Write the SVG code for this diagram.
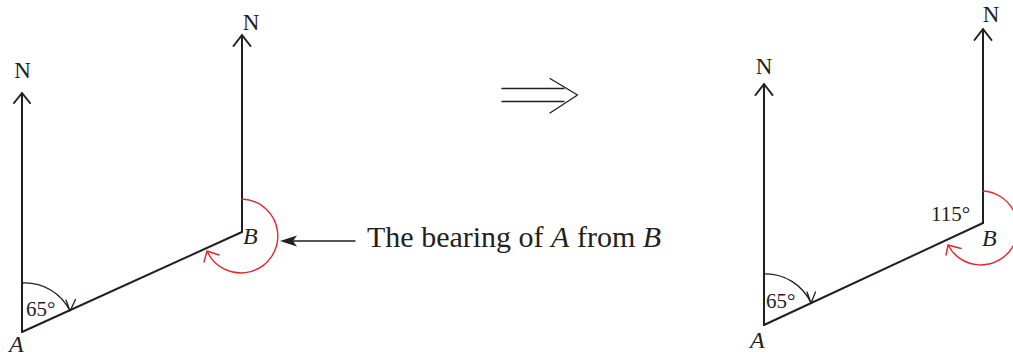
<svg xmlns="http://www.w3.org/2000/svg" width="1013" height="356" viewBox="0 0 1013 356">
<style>
.ln{stroke:#231f20;stroke-width:2;fill:none;stroke-linecap:round;stroke-linejoin:round}
.thin{stroke:#231f20;stroke-width:1.3;fill:none;stroke-linecap:round;stroke-linejoin:round}
.red{stroke:#e0262f;stroke-width:1.4;fill:none;stroke-linecap:round;stroke-linejoin:round}
text{font-family:"Liberation Serif","Times New Roman",serif;fill:#231f20}
.n{font-size:23px;text-anchor:middle}
.pt{font-size:24px;font-style:italic}
.ang{font-size:21px}
.cap{font-size:30px}
</style>
<rect width="1013" height="356" fill="#ffffff"/>
<g id="left-figure">
  <path class="ln" d="M22,332 V93 M14,103 L22,93 L30,103"/>
  <path class="ln" d="M242,232 V35 M233.5,46 L242,35 L250.5,46"/>
  <path class="ln" d="M22,332 L242,232"/>
  <path class="thin" d="M22,283 A50,50 0 0 1 70,311 M66,300 L70,311 L75.5,299.5"/>
  <path class="red" d="M242,199 A37,37 0 1 1 207,251 M204,262 L207,251 L219,255"/>
  <text class="n" x="22.5" y="78">N</text>
  <text class="n" x="251" y="30">N</text>
  <text class="pt" x="243" y="244">B</text>
  <text class="pt" x="9" y="352">A</text>
  <text class="ang" x="26" y="316">65°</text>
</g>
<g id="implies">
  <path class="thin" d="M502,88.5 H564 M502,101.5 H564 M550,78.5 L577.5,95 L550,113"/>
</g>
<g id="right-figure">
  <path class="ln" d="M764,325 V84 M755.5,95 L764,84 L772.5,95"/>
  <path class="ln" d="M983,223 V29 M974.5,40 L983,29 L991.5,40"/>
  <path class="ln" d="M764,325 L983,223"/>
  <path class="thin" d="M764,274 A50,50 0 0 1 811,303 M807,292 L811,303 L815.5,292"/>
  <path class="red" d="M983,191 A37,37 0 1 1 948,245 M946,255 L948,245 L961,248.5"/>
  <text class="n" x="764" y="74">N</text>
  <text class="n" x="991" y="22">N</text>
  <text class="pt" x="982" y="246">B</text>
  <text class="pt" x="750" y="348">A</text>
  <text class="ang" x="766" y="308">65°</text>
  <text class="ang" x="931" y="221">115°</text>
</g>
<g id="connectors">
  <path class="thin" d="M355,241 H292"/>
  <path fill="#231f20" d="M280,241 L297,235.5 L293,241 L297,246.5 Z"/>
</g>
<g id="caption">
  <text class="cap" x="367" y="247">The bearing of <tspan font-style="italic">A</tspan> from <tspan font-style="italic">B</tspan></text>
</g>
</svg>
